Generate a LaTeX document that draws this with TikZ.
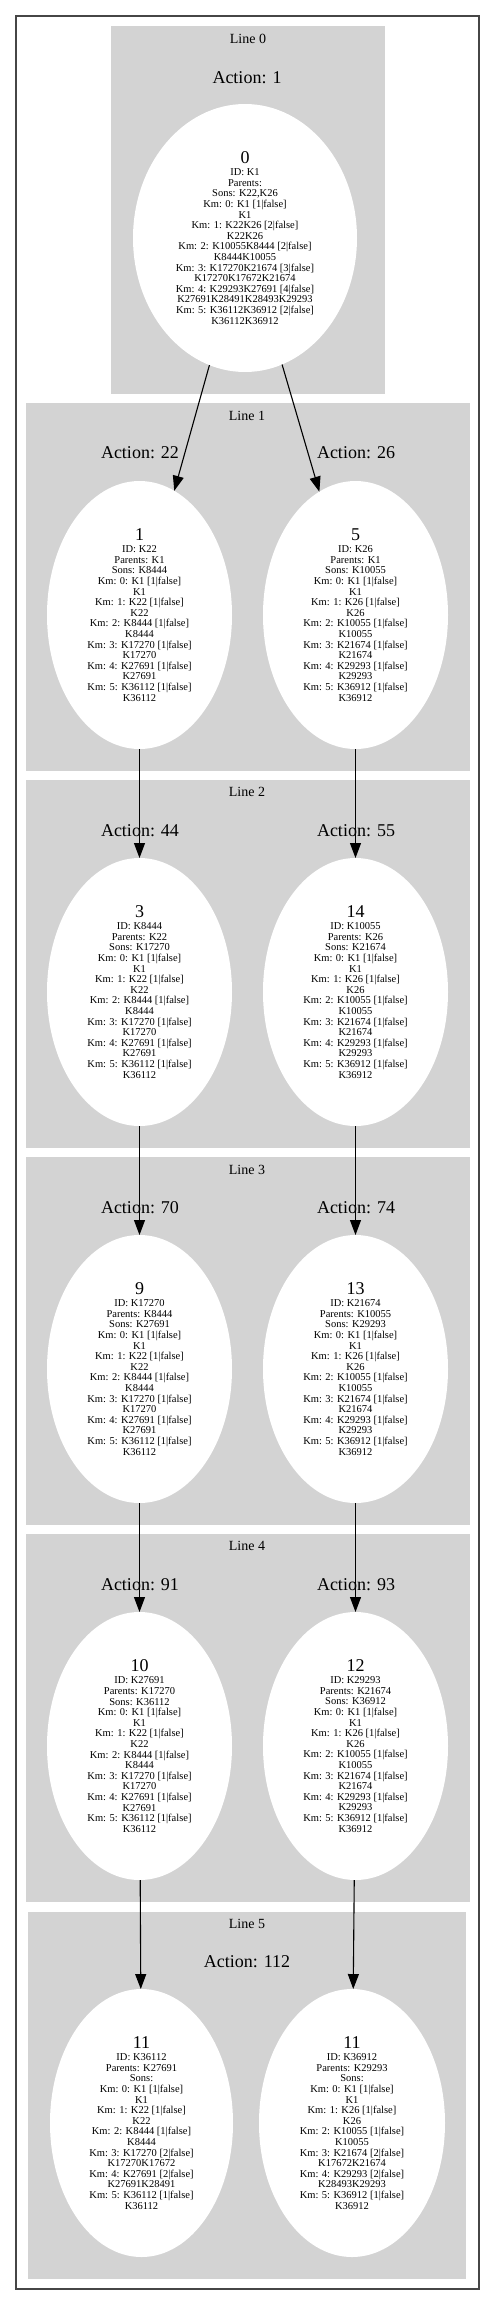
\documentclass[tikz,border=0pt]{standalone}
\usepackage{fontspec}
\setmainfont{Liberation Serif}
\usetikzlibrary{arrows.meta,positioning,shapes.geometric}

\definecolor{clgray}{RGB}{211,211,211}
\definecolor{frame}{RGB}{70,70,70}

% km lines shared by the left and right chains
\newcommand{\kmleft}{Km: 0: K1 [1|false]\\ K1\\ Km: 1: K22 [1|false]\\ K22\\ Km: 2: K8444 [1|false]\\ K8444\\ Km: 3: K17270 [1|false]\\ K17270\\ Km: 4: K27691 [1|false]\\ K27691\\ Km: 5: K36112 [1|false]\\ K36112}
\newcommand{\kmright}{Km: 0: K1 [1|false]\\ K1\\ Km: 1: K26 [1|false]\\ K26\\ Km: 2: K10055 [1|false]\\ K10055\\ Km: 3: K21674 [1|false]\\ K21674\\ Km: 4: K29293 [1|false]\\ K29293\\ Km: 5: K36912 [1|false]\\ K36912}
\newcommand{\nr}[1]{{\fontsize{18}{18}\selectfont #1}\\[1.5pt]}

\begin{document}
\begin{tikzpicture}[x=1pt,y=-1pt,>={Triangle[length=15pt,width=11pt]}]
  \tikzstyle{cluster}=[fill=clgray]
  \tikzstyle{ttl}=[font=\fontsize{14}{14}\selectfont,inner sep=0pt]
  \tikzstyle{act}=[font=\fontsize{18}{18}\selectfont,inner sep=0pt]
  \tikzstyle{km}=[ellipse,fill=white,inner sep=0pt,outer sep=0pt,minimum width=185pt,minimum height=268pt,align=center,font=\fontsize{10.5}{10.6}\selectfont]
  \tikzstyle{edge}=[line width=1.1pt,->]
  \useasboundingbox (0,0) rectangle (496,2305);
  \draw[frame,line width=1.3pt] (16,16) rectangle (479,2289);
  % clusters
  \fill[cluster] (111,26) rectangle (385,394);
  \fill[cluster] (26,403) rectangle (470,771);
  \fill[cluster] (26,780) rectangle (470,1148);
  \fill[cluster] (26,1157) rectangle (470,1525);
  \fill[cluster] (26,1534) rectangle (470,1902);
  \fill[cluster] (28,1912) rectangle (466,2279);
  \node[ttl] (line0) at (248,39) {Line 0};
  \node[ttl] (line1) at (247,416) {Line 1};
  \node[ttl] (line2) at (247,792) {Line 2};
  \node[ttl] (line3) at (247,1170) {Line 3};
  \node[ttl] (line4) at (247,1546) {Line 4};
  \node[ttl] (line5) at (247,1924) {Line 5};
  % states
  \node[km,minimum width=224pt] (n0) at (245,238) {\nr{0}ID: K1\\ Parents:\\ Sons: K22,K26\\ Km: 0: K1 [1|false]\\ K1\\ Km: 1: K22K26 [2|false]\\ K22K26\\ Km: 2: K10055K8444 [2|false]\\ K8444K10055\\ Km: 3: K17270K21674 [3|false]\\ K17270K17672K21674\\ Km: 4: K29293K27691 [4|false]\\ K27691K28491K28493K29293\\ Km: 5: K36112K36912 [2|false]\\ K36112K36912};
  \node[km] (n1) at (139.5,615) {\nr{1}ID: K22\\ Parents: K1\\ Sons: K8444\\ \kmleft};
  \node[km] (n5) at (355.5,615) {\nr{5}ID: K26\\ Parents: K1\\ Sons: K10055\\ \kmright};
  \node[km] (n3) at (139.5,992) {\nr{3}ID: K8444\\ Parents: K22\\ Sons: K17270\\ \kmleft};
  \node[km] (n14) at (355.5,992) {\nr{14}ID: K10055\\ Parents: K26\\ Sons: K21674\\ \kmright};
  \node[km] (n9) at (139.5,1369) {\nr{9}ID: K17270\\ Parents: K8444\\ Sons: K27691\\ \kmleft};
  \node[km] (n13) at (355.5,1369) {\nr{13}ID: K21674\\ Parents: K10055\\ Sons: K29293\\ \kmright};
  \node[km] (n10) at (139.5,1746) {\nr{10}ID: K27691\\ Parents: K17270\\ Sons: K36112\\ \kmleft};
  \node[km] (n12) at (355.5,1746) {\nr{12}ID: K29293\\ Parents: K21674\\ Sons: K36912\\ \kmright};
  \node[km,minimum width=183pt] (n11a) at (141.5,2123) {\nr{11}ID: K36112\\ Parents: K27691\\ Sons:\\ Km: 0: K1 [1|false]\\ K1\\ Km: 1: K22 [1|false]\\ K22\\ Km: 2: K8444 [1|false]\\ K8444\\ Km: 3: K17270 [2|false]\\ K17270K17672\\ Km: 4: K27691 [2|false]\\ K27691K28491\\ Km: 5: K36112 [1|false]\\ K36112};
  \node[km,minimum width=186pt] (n11b) at (352,2123) {\nr{11}ID: K36912\\ Parents: K29293\\ Sons:\\ Km: 0: K1 [1|false]\\ K1\\ Km: 1: K26 [1|false]\\ K26\\ Km: 2: K10055 [1|false]\\ K10055\\ Km: 3: K21674 [2|false]\\ K17672K21674\\ Km: 4: K29293 [2|false]\\ K28493K29293\\ Km: 5: K36912 [1|false]\\ K36912};
  % actions
  \node[act] (a1) at (247,78) {Action: 1};
  \node[act] (a22) at (140,453) {Action: 22};
  \node[act] (a26) at (356,453) {Action: 26};
  \node[act] (a44) at (140,831) {Action: 44};
  \node[act] (a55) at (356,831) {Action: 55};
  \node[act] (a70) at (140,1208) {Action: 70};
  \node[act] (a74) at (356,1208) {Action: 74};
  \node[act] (a91) at (140,1585) {Action: 91};
  \node[act] (a93) at (356,1585) {Action: 93};
  \node[act] (a112) at (247,1962) {Action: 112};
  % transitions
  \draw[edge] (n0) -- (n1);
  \draw[edge] (n0) -- (n5);
  \draw[edge] (n1) -- (n3);
  \draw[edge] (n5) -- (n14);
  \draw[edge] (n3) -- (n9);
  \draw[edge] (n14) -- (n13);
  \draw[edge] (n9) -- (n10);
  \draw[edge] (n13) -- (n12);
  \draw[edge] (n10) -- (n11a);
  \draw[edge] (n12) -- (n11b);
\end{tikzpicture}
\end{document}
